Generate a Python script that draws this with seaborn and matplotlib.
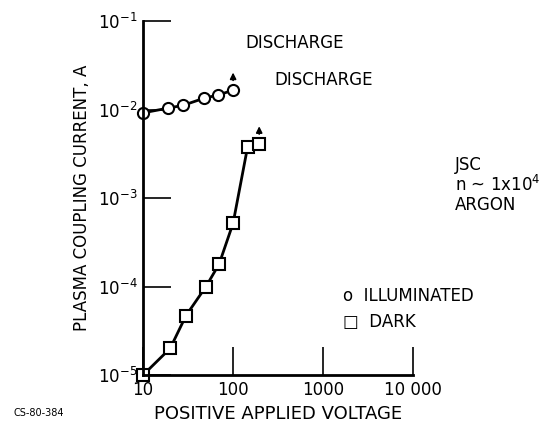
import pandas as pd
import matplotlib.pyplot as plt
import seaborn as sns

# Values
illum_volts = [10, 19, 28, 48, 68, 100]
illum_current = [0.0092, 0.0104, 0.0112, 0.0135, 0.0146, 0.0166]
dark_volts = [10, 20, 30, 50, 70, 100, 145, 195]
dark_current = [1.0e-5, 2.0e-5, 4.7e-5, 1.0e-4, 1.8e-4, 5.2e-4, 3.8e-3, 4.1e-3]

x_ticks = [10, 100, 1000, 10000]
x_ticklabels = ['10', '100', '1000', '10 000']
y_ticks = [1e-5, 1e-4, 1e-3, 1e-2, 1e-1]
y_ticklabels = ['$10^{-5}$', '$10^{-4}$', '$10^{-3}$', '$10^{-2}$', '$10^{-1}$']

df = pd.concat([
    pd.DataFrame({'voltage': illum_volts, 'current': illum_current, 'state': 'ILLUMINATED'}),
    pd.DataFrame({'voltage': dark_volts, 'current': dark_current, 'state': 'DARK'}),
])

sns.set_style('ticks')
plt.rcParams['font.family'] = ['DejaVu Sans']
plt.rcParams['mathtext.fontset'] = 'dejavusans'
plt.rcParams['text.color'] = 'black'
plt.rcParams['axes.labelcolor'] = 'black'

fig = plt.figure(figsize=(5.4, 4.32), dpi=100)
ax = fig.add_axes([0.265, 0.132, 0.5, 0.819])

for state, marker in [('ILLUMINATED', 'o'), ('DARK', 's')]:
    sns.lineplot(
        data=df[df['state'] == state], x='voltage', y='current',
        marker=marker, markersize=8, markerfacecolor='white',
        markeredgecolor='black', markeredgewidth=1.5,
        color='black', linewidth=2, ax=ax, legend=False
    )

ax.set_xscale('log')
ax.set_yscale('log')
ax.set_xlim(10, 10000)
ax.set_ylim(1e-5, 1e-1)
ax.set_xticks(x_ticks)
ax.set_xticklabels(x_ticklabels)
ax.set_yticks(y_ticks)
ax.set_yticklabels(y_ticklabels)
ax.minorticks_off()
ax.tick_params(direction='in', length=20, width=1.2, labelsize=12, pad=4, colors='black')
ax.spines['top'].set_visible(False)
ax.spines['right'].set_visible(False)
ax.spines['left'].set_linewidth(2)
ax.spines['bottom'].set_linewidth(2)
ax.spines['left'].set_color('black')
ax.spines['bottom'].set_color('black')
for line in ax.lines:
    line.set_clip_on(False)

ax.set_xlabel('POSITIVE APPLIED VOLTAGE', fontsize=13, labelpad=5)
ax.set_ylabel('PLASMA COUPLING CURRENT, A', fontsize=12, labelpad=5)

# discharge arrows above the last points
for xv, yv in [(illum_volts[-1], illum_current[-1]), (dark_volts[-1], dark_current[-1])]:
    ax.annotate('', xy=(xv, yv * 1.7), xytext=(xv, yv * 1.2),
                arrowprops=dict(arrowstyle='-|>', color='black', lw=1.2, mutation_scale=9),
                annotation_clip=False)

ax.text(136, 0.056, 'DISCHARGE', fontsize=12, ha='left', va='center')
ax.text(290, 0.0215, 'DISCHARGE', fontsize=12, ha='left', va='center')

fig.text(0.842, 0.505, 'JSC\nn ~ 1x10$^4$\nARGON', fontsize=12, ha='left', va='bottom',
         linespacing=1.05)
fig.text(0.635, 0.315, 'o  ILLUMINATED', fontsize=12, ha='left', va='center')
fig.text(0.635, 0.255, '\u25a1  DARK', fontsize=12, ha='left', va='center')
fig.text(0.025, 0.045, 'CS-80-384', fontsize=7, ha='left', va='center')

plt.savefig('out.png', dpi=100)
